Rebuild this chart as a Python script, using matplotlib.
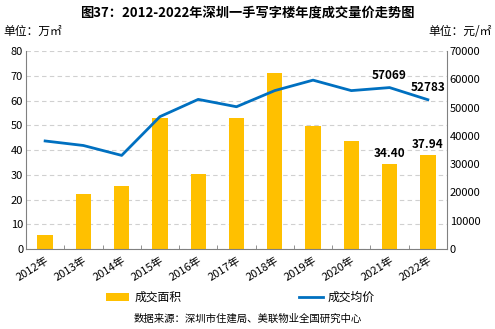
import matplotlib.pyplot as plt
import matplotlib as mpl
import numpy as np

mpl.rcParams.update({
    "font.family": ["Noto Sans CJK SC", "DejaVu Sans"],
    "font.size": 8,
    "axes.unicode_minus": False,
})

years = ["2012年", "2013年", "2014年", "2015年", "2016年", "2017年",
         "2018年", "2019年", "2020年", "2021年", "2022年"]
area = [5.7, 22.2, 25.5, 52.9, 30.3, 52.9, 71.2, 49.8, 43.6, 34.40, 37.94]
price = [38200, 36600, 33100, 46800, 52900, 50300, 56000, 59700, 56000, 57069, 52783]

bar_color = "#FFC000"
line_color = "#0070C0"

fig = plt.figure(figsize=(4.95, 3.29), dpi=100)
ax = fig.add_axes([0.0525, 0.243, 0.8505, 0.602])
x = np.arange(len(years))

ax.bar(x, area, width=0.4, color=bar_color, label="成交面积", zorder=2)
ax.set_ylim(0, 80)
ax.set_yticks(range(0, 81, 10))
ax.set_xlim(-0.5, len(years) - 0.5)
ax.grid(axis="y", linestyle=(0, (4, 3)), color="#D0D0D0", linewidth=0.8, zorder=0)
ax.set_axisbelow(True)
ax.set_xticks(x)
ax.set_xticklabels(years, rotation=32, ha="right", rotation_mode="anchor", fontsize=8)
ax.tick_params(axis="x", length=0, pad=4)
ax.set_xticks(np.arange(-0.5, len(years)), minor=True)
ax.tick_params(axis="x", which="minor", direction="in", length=3, color="#808080")
ax.tick_params(axis="y", length=0, labelsize=8, pad=2)
for s in ["top", "right"]:
    ax.spines[s].set_visible(False)
for s in ["left", "bottom"]:
    ax.spines[s].set_color("#808080")

ax2 = ax.twinx()
ax2.plot(x, price, color=line_color, linewidth=2, label="成交均价", zorder=3)
ax2.set_ylim(0, 70000)
ax2.set_yticks(range(0, 70001, 10000))
ax2.tick_params(axis="y", length=0, labelsize=8, pad=2)
for s in ["top", "left", "bottom"]:
    ax2.spines[s].set_visible(False)
ax2.spines["right"].set_color("#808080")

# data labels for last two years
for i in [9, 10]:
    ax.text(x[i], area[i] + 1.5, f"{area[i]:.2f}", ha="center", va="bottom",
            fontsize=8.5, fontweight="bold")
    ax2.text(x[i], price[i] + 2000, f"{price[i]}", ha="center", va="bottom",
             fontsize=8.5, fontweight="bold")

fig.text(0.5, 0.962, "图37：2012-2022年深圳一手写字楼年度成交量价走势图",
         ha="center", va="center", fontsize=9.5, fontweight="bold")
fig.text(0.006, 0.905, "单位：万㎡", ha="left", va="center", fontsize=8.5)
fig.text(0.994, 0.905, "单位：元/㎡", ha="right", va="center", fontsize=8.5)

h1, l1 = ax.get_legend_handles_labels()
h2, l2 = ax2.get_legend_handles_labels()
fig.legend(h1 + h2, l1 + l2, loc="center", bbox_to_anchor=(0.485, 0.095), ncol=2,
           frameon=False, fontsize=8.5, columnspacing=10, handlelength=2.0,
           handletextpad=0.4)
fig.text(0.5, 0.033, "数据来源：深圳市住建局、美联物业全国研究中心",
         ha="center", va="center", fontsize=7.5)

fig.savefig("out.png", dpi=100)
